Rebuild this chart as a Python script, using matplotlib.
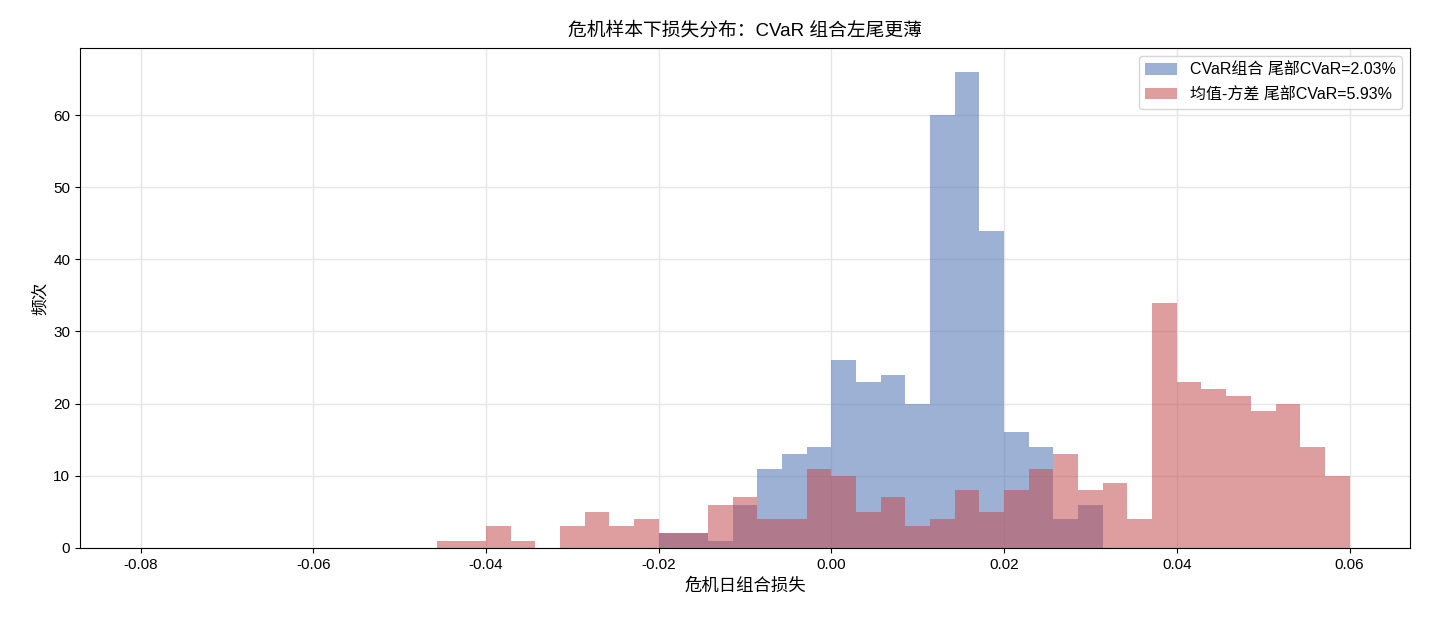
import numpy as np
import matplotlib
matplotlib.use("Agg")
import matplotlib.pyplot as plt

plt.rcParams['font.family'] = ['Liberation Sans', 'Noto Sans CJK SC', 'DejaVu Sans']
plt.rcParams['axes.unicode_minus'] = False

# 直方图分箱：-0.08 到 0.06，共 49 个箱
bin_lo, bin_hi, n_bins = -0.08, 0.06, 49

# 各箱频次
cvar_counts = [0] * 21 + [2, 2, 1, 6, 11, 13, 14, 26, 23, 24, 20, 60, 66, 44, 16, 14, 4, 6] + [0] * 10
mv_counts = [0] * 12 + [1, 1, 3, 1, 0, 3, 5, 3, 4, 2, 2, 6, 7, 4, 4, 11, 10, 5, 7, 3, 4, 8, 5,
                        8, 11, 13, 8, 9, 4, 34, 23, 22, 21, 19, 20, 14, 10]

cvar_label = 'CVaR组合 尾部CVaR=2.03%'
mv_label = '均值-方差 尾部CVaR=5.93%'

edges = np.linspace(bin_lo, bin_hi, n_bins + 1)
centers = (edges[:-1] + edges[1:]) / 2

fig, ax = plt.subplots(figsize=(14.3, 6.24), dpi=100)
ax.hist(centers, bins=edges, weights=cvar_counts, color='#4C72B0', alpha=0.55, label=cvar_label)
ax.hist(centers, bins=edges, weights=mv_counts, color='#C44E52', alpha=0.55, label=mv_label)

ax.set_title('危机样本下损失分布：CVaR 组合左尾更薄', fontsize=13.5, pad=9)
ax.set_xlabel('危机日组合损失', fontsize=12.5)
ax.set_ylabel('频次', fontsize=12)
ax.tick_params(labelsize=11)
ax.grid(True, color='#e6e6e6', linewidth=1)
ax.set_axisbelow(True)
ax.legend(loc='upper right', fontsize=11.5, labelspacing=0.6)

plt.subplots_adjust(left=0.056, right=0.986, top=0.923, bottom=0.122)
plt.savefig('out.png')
